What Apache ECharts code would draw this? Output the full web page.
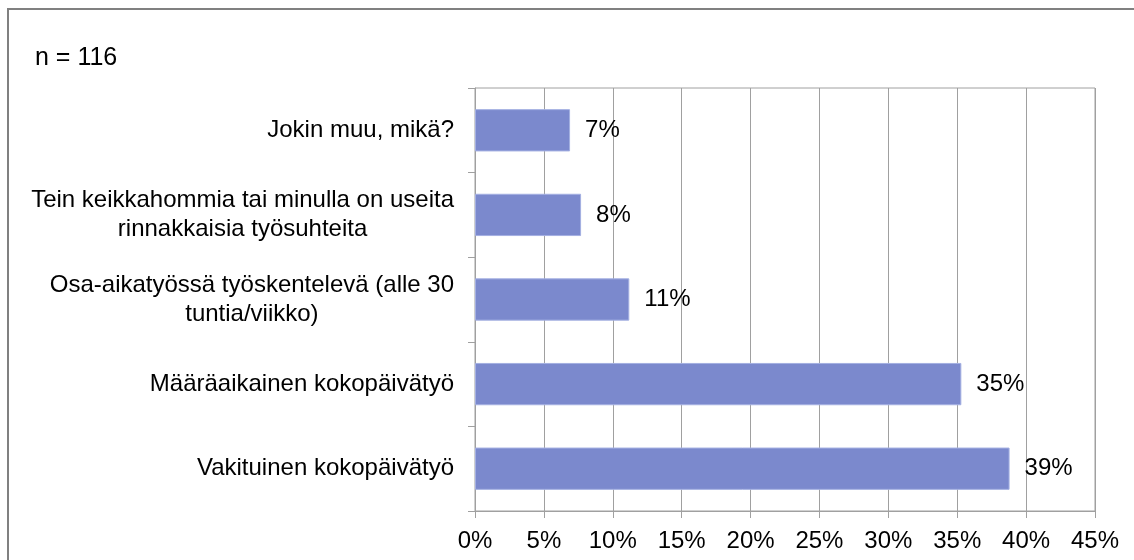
<!DOCTYPE html>
<html>
<head>
<meta charset="utf-8">
<script src="https://cdn.jsdelivr.net/npm/echarts@6/dist/echarts.min.js"></script>
<style>
  html, body { margin: 0; padding: 0; background: #fff; }
  #chart { width: 1134px; height: 560px; }
</style>
</head>
<body>
<div id="chart"></div>
<script>
// 分类（从下到上）
const categories = [
  'Vakituinen kokopäivätyö',
  'Määräaikainen kokopäivätyö',
  'Osa-aikatyössä työskentelevä (alle 30\ntuntia/viikko)',
  'Tein keikkahommia tai minulla on useita\nrinnakkaisia työsuhteita',
  'Jokin muu, mikä?'
]
// 百分比数值
const values = [38.8, 35.3, 11.2, 7.7, 6.9]
const sampleText = 'n = 116'

const chart = echarts.init(document.getElementById('chart'))

const font = 'Arial, "Liberation Sans", sans-serif'
const fs = 24

const option = {
  animation: false,
  title: {
    text: sampleText,
    left: 30,
    top: 41,
    textStyle: { fontFamily: font, fontSize: 25, fontWeight: 'normal', color: '#000' }
  },
  graphic: [
    {
      type: 'rect',
      shape: { x: 8, y: 9, width: 1200, height: 600 },
      style: { fill: 'none', stroke: '#808080', lineWidth: 2 },
      silent: true
    }
  ],
  grid: {
    left: 475,
    right: 39,
    top: 88,
    bottom: 49,
    show: true,
    borderColor: '#a0a0a0',
    borderWidth: 1
  },
  xAxis: {
    type: 'value',
    min: 0,
    max: 45,
    interval: 5,
    axisLine: { show: true, lineStyle: { color: '#a0a0a0', width: 1 } },
    axisTick: { show: true, length: 7, lineStyle: { color: '#a0a0a0' } },
    splitLine: { show: true, lineStyle: { color: '#a0a0a0', width: 1 } },
    axisLabel: {
      formatter: '{value}%',
      margin: 18,
      fontFamily: font,
      fontSize: fs,
      color: '#000'
    }
  },
  yAxis: {
    type: 'category',
    data: categories,
    axisLine: { show: true, lineStyle: { color: '#a0a0a0', width: 1 } },
    axisTick: { show: true, length: 7, lineStyle: { color: '#a0a0a0' } },
    axisLabel: {
      margin: 21,
      fontFamily: font,
      fontSize: fs,
      lineHeight: 29,
      color: '#000',
      formatter: (v) => v.split('\n').map(s => '{c|' + s + '}').join('\n'),
      rich: {
        c: { align: 'center', fontFamily: font, fontSize: fs, lineHeight: 29, color: '#000' }
      }
    }
  },
  series: [
    {
      type: 'bar',
      data: values,
      barWidth: '50%',
      itemStyle: { color: '#7b89cd', borderColor: '#a4b0e2', borderWidth: 1 },
      label: {
        show: true,
        position: 'right',
        distance: 15,
        fontFamily: font,
        fontSize: fs,
        color: '#000',
        formatter: (p) => Math.round(p.value) + '%'
      }
    }
  ]
}

chart.setOption(option)
</script>
</body>
</html>
